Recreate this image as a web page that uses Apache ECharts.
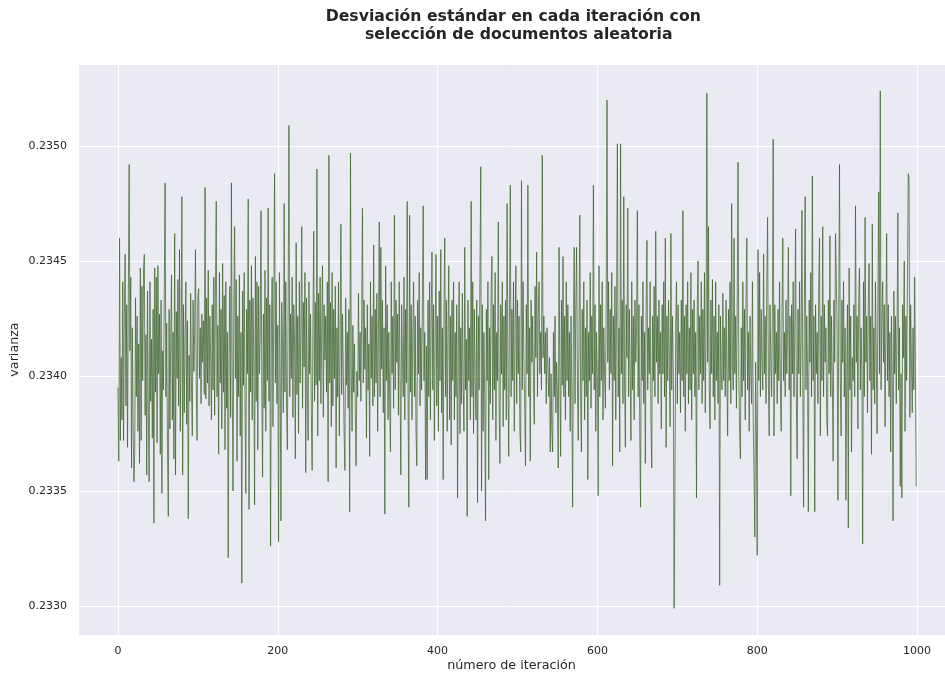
<!DOCTYPE html>
<html>
<head>
<meta charset="utf-8">
<script src="https://cdn.jsdelivr.net/npm/echarts@6/dist/echarts.min.js"></script>
<style>
html,body{margin:0;padding:0;background:#ffffff;}
#chart{width:945px;height:675px;}
</style>
</head>
<body>
<div id="chart"></div>
<script>
const titleText = "Desviación estándar en cada iteración con \n selección de documentos aleatoria";
const xAxisName = "número de iteración";
const yAxisName = "varianza";
const xTickValues = [0, 200, 400, 600, 800, 1000];
const yTickValues = [0.2330, 0.2335, 0.2340, 0.2345, 0.2350];

const varianza = [
0.23395,0.23363,0.23460,0.23372,0.23408,0.23381,0.23441,0.23372,0.23427,0.23453,
0.23387,0.23431,0.23369,0.23436,0.23492,0.23411,0.23443,0.23360,0.23421,0.23378,
0.23354,0.23367,0.23434,0.23391,0.23426,0.23376,0.23414,0.23362,0.23447,0.23372,
0.23439,0.23398,0.23446,0.23453,0.23383,0.23418,0.23357,0.23437,0.23384,0.23354,
0.23441,0.23389,0.23416,0.23373,0.23429,0.23336,0.23447,0.23393,0.23443,0.23371,
0.23448,0.23401,0.23427,0.23366,0.23433,0.23349,0.23411,0.23394,0.23438,0.23484,
0.23391,0.23423,0.23368,0.23339,0.23429,0.23377,0.23415,0.23444,0.23381,0.23419,
0.23364,0.23462,0.23357,0.23428,0.23399,0.23442,0.23387,0.23455,0.23376,0.23413,
0.23478,0.23357,0.23431,0.23384,0.23416,0.23441,0.23379,0.23424,0.23338,0.23409,
0.23389,0.23436,0.23397,0.23374,0.23433,0.23402,0.23419,0.23455,0.23396,0.23372,
0.23435,0.23438,0.23399,0.23421,0.23388,0.23427,0.23406,0.23424,0.23392,0.23482,
0.23390,0.23434,0.23397,0.23446,0.23387,0.23426,0.23409,0.23381,0.23431,0.23394,
0.23443,0.23383,0.23436,0.23476,0.23391,0.23422,0.23366,0.23445,0.23397,0.23429,
0.23377,0.23449,0.23393,0.23435,0.23368,0.23441,0.23386,0.23419,0.23321,0.23407,
0.23439,0.23382,0.23484,0.23396,0.23350,0.23431,0.23465,0.23399,0.23442,0.23363,
0.23426,0.23391,0.23444,0.23374,0.23419,0.23310,0.23437,0.23396,0.23445,0.23387,
0.23349,0.23429,0.23401,0.23477,0.23342,0.23433,0.23393,0.23448,0.23381,0.23434,
0.23406,0.23344,0.23452,0.23389,0.23441,0.23368,0.23439,0.23401,0.23417,0.23472,
0.23394,0.23356,0.23427,0.23386,0.23446,0.23376,0.23434,0.23398,0.23473,0.23389,
0.23431,0.23326,0.23419,0.23443,0.23378,0.23429,0.23488,0.23397,0.23441,0.23388,
0.23422,0.23328,0.23445,0.23401,0.23337,0.23432,0.23411,0.23384,0.23475,0.23393,
0.23441,0.23387,0.23368,0.23433,0.23509,0.23391,0.23427,0.23399,0.23443,0.23382,
0.23431,0.23414,0.23364,0.23458,0.23392,0.23426,0.23375,0.23441,0.23397,0.23419,
0.23465,0.23386,0.23432,0.23404,0.23445,0.23358,0.23434,0.23393,0.23372,0.23441,
0.23401,0.23427,0.23383,0.23359,0.23421,0.23463,0.23389,0.23432,0.23396,0.23490,
0.23374,0.23436,0.23398,0.23443,0.23388,0.23422,0.23448,0.23382,0.23431,0.23407,
0.23426,0.23393,0.23441,0.23354,0.23496,0.23397,0.23432,0.23378,0.23445,0.23387,
0.23429,0.23399,0.23439,0.23360,0.23421,0.23391,0.23441,0.23374,0.23413,0.23466,
0.23392,0.23427,0.23403,0.23376,0.23359,0.23434,0.23396,0.23419,0.23386,0.23429,
0.23341,0.23497,0.23401,0.23376,0.23422,0.23393,0.23414,0.23385,0.23361,0.23402,
0.23391,0.23436,0.23398,0.23419,0.23389,0.23426,0.23473,0.23397,0.23433,0.23403,
0.23421,0.23373,0.23431,0.23394,0.23414,0.23365,0.23441,0.23399,0.23426,0.23387,
0.23457,0.23391,0.23429,0.23397,0.23436,0.23376,0.23419,0.23467,0.23391,0.23456,
0.23403,0.23433,0.23384,0.23421,0.23340,0.23448,0.23398,0.23431,0.23381,0.23419,
0.23392,0.23367,0.23441,0.23401,0.23426,0.23386,0.23470,0.23394,0.23433,0.23406,
0.23427,0.23383,0.23441,0.23398,0.23357,0.23431,0.23408,0.23391,0.23443,0.23381,
0.23429,0.23397,0.23476,0.23391,0.23343,0.23470,0.23393,0.23431,0.23381,0.23419,
0.23441,0.23391,0.23426,0.23376,0.23361,0.23433,0.23401,0.23445,0.23387,0.23421,
0.23394,0.23431,0.23474,0.23398,0.23419,0.23355,0.23413,0.23355,0.23433,0.23391,
0.23441,0.23381,0.23426,0.23454,0.23394,0.23431,0.23372,0.23419,0.23453,0.23387,
0.23426,0.23376,0.23437,0.23398,0.23455,0.23384,0.23421,0.23355,0.23429,0.23460,
0.23391,0.23433,0.23376,0.23419,0.23448,0.23381,0.23426,0.23370,0.23433,0.23398,
0.23441,0.23381,0.23419,0.23391,0.23431,0.23347,0.23413,0.23441,0.23375,0.23421,
0.23388,0.23436,0.23398,0.23376,0.23456,0.23394,0.23416,0.23339,0.23433,0.23398,
0.23421,0.23381,0.23476,0.23391,0.23441,0.23375,0.23429,0.23398,0.23381,0.23433,
0.23345,0.23426,0.23394,0.23443,0.23491,0.23350,0.23431,0.23376,0.23419,0.23391,
0.23337,0.23429,0.23398,0.23441,0.23355,0.23421,0.23388,0.23436,0.23452,0.23381,
0.23431,0.23394,0.23445,0.23372,0.23419,0.23398,0.23467,0.23388,0.23362,0.23431,
0.23401,0.23441,0.23378,0.23426,0.23394,0.23433,0.23381,0.23475,0.23406,0.23365,
0.23431,0.23483,0.23391,0.23429,0.23398,0.23441,0.23376,0.23421,0.23448,0.23388,
0.23433,0.23401,0.23426,0.23376,0.23367,0.23485,0.23394,0.23441,0.23408,0.23388,
0.23361,0.23431,0.23401,0.23483,0.23391,0.23421,0.23363,0.23433,0.23406,0.23426,
0.23398,0.23379,0.23439,0.23408,0.23454,0.23391,0.23426,0.23441,0.23401,0.23419,
0.23394,0.23496,0.23408,0.23426,0.23401,0.23419,0.23388,0.23421,0.23404,0.23391,
0.23408,0.23367,0.23401,0.23376,0.23367,0.23419,0.23391,0.23426,0.23384,0.23406,
0.23391,0.23360,0.23456,0.23401,0.23365,0.23433,0.23396,0.23452,0.23391,0.23426,
0.23381,0.23441,0.23398,0.23431,0.23391,0.23419,0.23376,0.23426,0.23394,0.23343,
0.23421,0.23456,0.23388,0.23431,0.23456,0.23398,0.23372,0.23419,0.23470,0.23391,
0.23367,0.23429,0.23398,0.23441,0.23381,0.23421,0.23391,0.23433,0.23355,0.23419,
0.23398,0.23445,0.23386,0.23426,0.23401,0.23483,0.23394,0.23431,0.23376,0.23419,
0.23401,0.23348,0.23448,0.23391,0.23431,0.23398,0.23441,0.23381,0.23421,0.23401,
0.23386,0.23433,0.23520,0.23406,0.23441,0.23394,0.23429,0.23401,0.23445,0.23361,
0.23426,0.23398,0.23439,0.23381,0.23431,0.23501,0.23391,0.23421,0.23367,0.23501,
0.23401,0.23433,0.23388,0.23478,0.23398,0.23369,0.23431,0.23408,0.23473,0.23391,
0.23429,0.23401,0.23372,0.23441,0.23394,0.23426,0.23381,0.23433,0.23406,0.23421,
0.23472,0.23391,0.23431,0.23376,0.23343,0.23426,0.23398,0.23441,0.23388,0.23419,
0.23362,0.23431,0.23459,0.23394,0.23421,0.23401,0.23441,0.23381,0.23360,0.23426,
0.23398,0.23439,0.23391,0.23463,0.23406,0.23426,0.23388,0.23433,0.23401,0.23419,
0.23377,0.23431,0.23401,0.23441,0.23391,0.23460,0.23369,0.23426,0.23398,0.23433,
0.23406,0.23378,0.23462,0.23394,0.23426,0.23401,0.23299,0.23349,0.23421,0.23441,
0.23388,0.23431,0.23401,0.23419,0.23384,0.23433,0.23398,0.23472,0.23391,0.23426,
0.23376,0.23431,0.23401,0.23441,0.23388,0.23421,0.23394,0.23445,0.23381,0.23429,
0.23401,0.23433,0.23391,0.23419,0.23347,0.23431,0.23450,0.23394,0.23426,0.23401,
0.23441,0.23388,0.23429,0.23398,0.23445,0.23384,0.23421,0.23523,0.23406,0.23465,
0.23394,0.23377,0.23433,0.23401,0.23442,0.23391,0.23426,0.23381,0.23441,0.23398,
0.23419,0.23388,0.23431,0.23309,0.23426,0.23401,0.23394,0.23436,0.23398,0.23421,
0.23391,0.23433,0.23401,0.23374,0.23429,0.23398,0.23441,0.23388,0.23475,0.23406,
0.23394,0.23460,0.23401,0.23426,0.23386,0.23433,0.23493,0.23398,0.23376,0.23364,
0.23421,0.23391,0.23441,0.23398,0.23429,0.23381,0.23433,0.23460,0.23394,0.23419,
0.23376,0.23426,0.23401,0.23388,0.23441,0.23381,0.23358,0.23330,0.23406,0.23376,
0.23322,0.23455,0.23398,0.23445,0.23391,0.23429,0.23406,0.23394,0.23453,0.23401,
0.23426,0.23388,0.23441,0.23469,0.23396,0.23374,0.23431,0.23408,0.23391,0.23426,
0.23503,0.23374,0.23431,0.23401,0.23419,0.23388,0.23429,0.23398,0.23441,0.23394,
0.23376,0.23426,0.23460,0.23398,0.23419,0.23391,0.23433,0.23401,0.23421,0.23456,
0.23394,0.23426,0.23348,0.23431,0.23401,0.23441,0.23391,0.23419,0.23464,0.23388,
0.23364,0.23429,0.23401,0.23441,0.23391,0.23419,0.23472,0.23398,0.23343,0.23431,
0.23478,0.23394,0.23426,0.23401,0.23341,0.23433,0.23406,0.23445,0.23391,0.23487,
0.23398,0.23426,0.23341,0.23431,0.23401,0.23419,0.23388,0.23441,0.23460,0.23374,
0.23426,0.23398,0.23465,0.23391,0.23431,0.23406,0.23421,0.23381,0.23374,0.23433,
0.23401,0.23461,0.23391,0.23426,0.23398,0.23363,0.23433,0.23406,0.23462,0.23443,
0.23419,0.23346,0.23426,0.23492,0.23398,0.23374,0.23433,0.23406,0.23441,0.23391,
0.23421,0.23346,0.23401,0.23431,0.23334,0.23447,0.23394,0.23426,0.23367,0.23408,
0.23398,0.23431,0.23391,0.23474,0.23406,0.23426,0.23377,0.23433,0.23447,0.23394,
0.23421,0.23401,0.23327,0.23441,0.23391,0.23469,0.23406,0.23426,0.23384,0.23433,
0.23449,0.23398,0.23426,0.23366,0.23466,0.23394,0.23421,0.23388,0.23441,0.23406,
0.23375,0.23433,0.23480,0.23401,0.23524,0.23394,0.23426,0.23441,0.23406,0.23431,
0.23378,0.23421,0.23462,0.23398,0.23431,0.23391,0.23419,0.23367,0.23426,0.23398,
0.23337,0.23437,0.23401,0.23426,0.23388,0.23419,0.23471,0.23394,0.23421,0.23352,
0.23401,0.23347,0.23431,0.23408,0.23450,0.23376,0.23426,0.23398,0.23441,0.23488,
0.23486,0.23382,0.23431,0.23406,0.23384,0.23421,0.23394,0.23443,0.23401,0.23352
];

const seriesData = varianza.map((v, i) => [i, v]);

function isTick(v, list, tol) {
  return list.some(t => Math.abs(t - v) < tol);
}

const chart = echarts.init(document.getElementById('chart'), null, {renderer: 'canvas'});
chart.setOption({
  animation: false,
  backgroundColor: '#ffffff',
  title: {
    text: titleText,
    left: 511,
    top: 3,
    textAlign: 'center',
    textStyle: {
      fontFamily: 'DejaVu Sans',
      fontSize: 15.7,
      fontWeight: 'bold',
      color: '#262626',
      lineHeight: 18
    }
  },
  grid: {
    left: 78,
    right: 0,
    top: 64,
    bottom: 40,
    containLabel: false,
    outerBoundsMode: 'none',
    show: true,
    backgroundColor: '#EAEAF2',
    borderWidth: 0
  },
  xAxis: {
    type: 'value',
    min: -50,
    max: 1035,
    splitNumber: 5,
    name: xAxisName,
    nameLocation: 'middle',
    nameGap: 24,
    nameMoveOverlap: false,
    nameTextStyle: {fontFamily: 'DejaVu Sans', fontSize: 12.7, color: '#262626'},
    axisLine: {show: false},
    axisTick: {show: false},
    axisLabel: {
      fontFamily: 'DejaVu Sans', fontSize: 11, color: '#262626', margin: 11,
      showMinLabel: false, showMaxLabel: false,
      formatter: v => isTick(v, xTickValues, 1e-6) ? String(v) : ''
    },
    splitLine: {show: true, lineStyle: {color: '#ffffff', width: 1}}
  },
  yAxis: {
    type: 'value',
    min: 0.232874,
    max: 0.235357,
    splitNumber: 5,
    name: yAxisName,
    nameLocation: 'middle',
    nameGap: 57,
    nameMoveOverlap: false,
    nameTextStyle: {fontFamily: 'DejaVu Sans', fontSize: 12.7, color: '#262626'},
    axisLine: {show: false},
    axisTick: {show: false},
    axisLabel: {
      fontFamily: 'DejaVu Sans', fontSize: 11, color: '#262626', margin: 11,
      showMinLabel: false, showMaxLabel: false,
      formatter: v => isTick(v, yTickValues, 1e-8) ? v.toFixed(4) : ''
    },
    splitLine: {show: true, lineStyle: {color: '#ffffff', width: 1}}
  },
  series: [{
    type: 'line',
    data: seriesData,
    showSymbol: false,
    symbol: 'none',
    sampling: null,
    lineStyle: {color: 'rgba(62,100,45,0.74)', width: 1},
    emphasis: {disabled: true}
  }]
});
</script>
</body>
</html>
